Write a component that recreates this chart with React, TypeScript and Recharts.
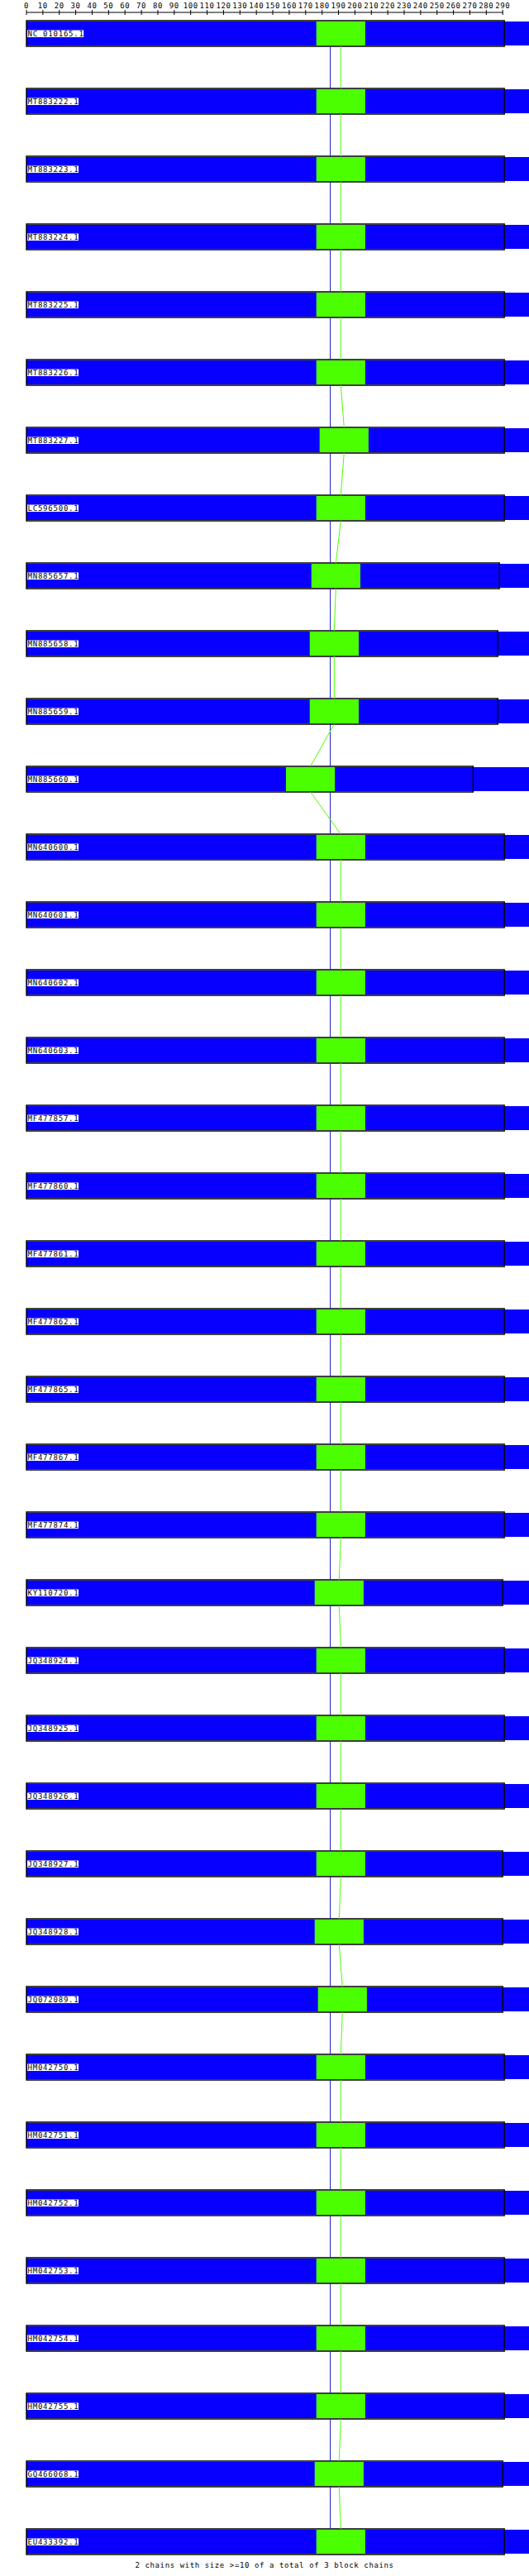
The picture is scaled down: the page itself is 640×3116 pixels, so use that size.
import { ComposedChart, ReferenceArea, ReferenceLine, Scatter, XAxis, YAxis } from 'recharts';

const SEQUENCES = [
  'NC_010165.1', 'MT883222.1', 'MT883223.1', 'MT883224.1', 'MT883225.1', 'MT883226.1', 'MT883227.1',
  'LC596500.1', 'MN885657.1', 'MN885658.1', 'MN885659.1', 'MN885660.1', 'MN640600.1', 'MN640601.1',
  'MN640602.1', 'MN640603.1', 'MF477857.1', 'MF477860.1', 'MF477861.1', 'MF477862.1', 'MF477865.1',
  'MF477867.1', 'MF477874.1', 'KY110720.1', 'JQ348924.1', 'JQ348925.1', 'JQ348926.1', 'JQ348927.1',
  'JQ348928.1', 'JQ072089.1', 'HM042750.1', 'HM042751.1', 'HM042752.1', 'HM042753.1', 'HM042754.1',
  'HM042755.1', 'GQ466068.1', 'EU433392.1',
];

// sequence length (ruler units)
const SEQ_LEN = [
  291, 291, 291, 291, 291, 291, 291, 291, 288, 287, 287, 272, 291, 291,
  291, 291, 291, 291, 291, 291, 291, 291, 291, 290, 291, 291, 291, 290,
  290, 290, 291, 291, 291, 291, 291, 291, 290, 291,
];

// start of the green block in each sequence
const GREEN_START = [
  176.5, 176.5, 176.5, 176.5, 176.5, 176.5, 178.5, 176.5, 173.5, 172.5, 172.5, 158, 176.5, 176.5,
  176.5, 176.5, 176.5, 176.5, 176.5, 176.5, 176.5, 176.5, 176.5, 175.5, 176.5, 176.5, 176.5, 176.5,
  175.5, 177.5, 176.5, 176.5, 176.5, 176.5, 176.5, 176.5, 175.5, 176.5,
];
const GREEN_LEN = 29.8;

// the blue block runs past the end of every sequence
const BLUE_START = 0;
const BLUE_END = 370;

const RULER_TICKS = [
  0, 10, 20, 30, 40, 50, 60, 70, 80, 90, 100, 110, 120, 130, 140, 150, 160, 170, 180, 190,
  200, 210, 220, 230, 240, 250, 260, 270, 280, 290,
];
const RULER_END = 290;
const FOOTER = '2 chains with size >=10 of a total of 3 block chains';

const BLUE = '#0800ff';
const GREEN = '#4cff00';
const BLUE_LINK = '#1a1acc';
const FONT = '"DejaVu Sans Mono", monospace';

// y axis is in row units: a row pitch is 1, a bar is ROW_H tall
const ROW_H = 31 / 82;
const INSET = 1 / 82;
const RULER_GAP = 10 / 82;
const N = SEQUENCES.length;

const labelPoints = SEQUENCES.map((name, i) => ({ x: 0, y: i + ROW_H / 2, name }));

function RulerTick(props: any) {
  const { x, y, payload } = props;
  return (
    <g>
      <text x={x} y={y - 5} textAnchor="middle" fontSize={9} letterSpacing={0.6} fontFamily={FONT} fill="#000">
        {payload.value}
      </text>
      <line x1={x} x2={x} y1={y - 3} y2={y + 3} stroke="#000" strokeWidth={1} />
    </g>
  );
}

function SeqLabel(props: any) {
  const { cx, cy } = props;
  const name = props.payload?.name ?? props.name ?? '';
  return (
    <g>
      <rect x={cx + 1} y={cy - 4} width={name.length * 6.2} height={8.5} fill="#fff" />
      <text x={cx + 1.5} y={cy + 3.3} fontSize={9} letterSpacing={0.78} fontFamily={FONT} fill="#000">
        {name}
      </text>
    </g>
  );
}

export default function App() {
  const blueMid = (BLUE_START + BLUE_END) / 2;
  return (
    <div style={{ position: 'absolute', left: 0, top: 0, width: 640, height: 3116, background: '#fff' }}>
      <ComposedChart width={640} height={3116} margin={{ top: 0, right: 0, bottom: 26, left: 32 }}>
        <XAxis
          type="number"
          dataKey="x"
          orientation="top"
          height={15}
          domain={[0, 306]}
          allowDataOverflow
          ticks={RULER_TICKS}
          interval={0}
          tickSize={0}
          tickMargin={0}
          axisLine={false}
          tickLine={false}
          tick={(p: any) => <RulerTick {...p} />}
        />
        <YAxis type="number" dataKey="y" domain={[-RULER_GAP, N - 1 + ROW_H]} reversed hide allowDataOverflow />
        <ReferenceLine
          segment={[{ x: 0, y: -RULER_GAP }, { x: RULER_END, y: -RULER_GAP }]}
          stroke="#000"
          strokeWidth={1}
          ifOverflow="visible"
        />
        {SEQUENCES.slice(0, -1).map((_, i) => (
          <ReferenceLine
            key={`b${i}`}
            segment={[{ x: blueMid, y: i + ROW_H }, { x: blueMid, y: i + 1 }]}
            stroke={BLUE_LINK}
            strokeWidth={1}
            ifOverflow="visible"
          />
        ))}
        {SEQUENCES.slice(0, -1).map((_, i) => (
          <ReferenceLine
            key={`g${i}`}
            segment={[
              { x: GREEN_START[i] + GREEN_LEN / 2, y: i + ROW_H },
              { x: GREEN_START[i + 1] + GREEN_LEN / 2, y: i + 1 },
            ]}
            stroke={GREEN}
            strokeWidth={1}
            ifOverflow="visible"
          />
        ))}
        {SEQUENCES.map((name, i) => (
          <ReferenceArea
            key={`bb${name}`}
            x1={BLUE_START}
            x2={BLUE_END}
            y1={i + INSET}
            y2={i + ROW_H - INSET}
            fill={BLUE}
            fillOpacity={1}
            stroke="none"
            ifOverflow="hidden"
          />
        ))}
        {SEQUENCES.map((name, i) => (
          <ReferenceArea
            key={`gb${name}`}
            x1={GREEN_START[i]}
            x2={GREEN_START[i] + GREEN_LEN}
            y1={i + INSET}
            y2={i + ROW_H - INSET}
            fill={GREEN}
            fillOpacity={1}
            stroke="none"
            ifOverflow="hidden"
          />
        ))}
        {SEQUENCES.map((name, i) => (
          <ReferenceArea
            key={`sq${name}`}
            x1={0}
            x2={SEQ_LEN[i]}
            y1={i}
            y2={i + ROW_H}
            fill="none"
            fillOpacity={0}
            stroke="#000"
            strokeWidth={1.4}
            ifOverflow="visible"
          />
        ))}
        <Scatter data={labelPoints} isAnimationActive={false} shape={(p: any) => <SeqLabel {...p} />} />
      </ComposedChart>
      <div
        style={{
          position: 'absolute',
          left: 0,
          top: 3097,
          width: 640,
          textAlign: 'center',
          fontFamily: FONT,
          fontSize: 9,
          letterSpacing: 0.6,
          lineHeight: '12px',
          color: '#000',
        }}
      >
        {FOOTER}
      </div>
    </div>
  );
}
